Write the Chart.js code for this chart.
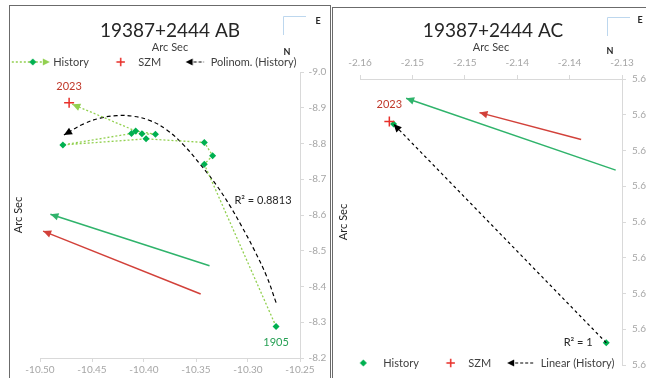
<!DOCTYPE html>
<html>
<head>
<meta charset="utf-8">
<script src="https://cdn.jsdelivr.net/npm/chart.js@4.4.1/dist/chart.umd.min.js"></script>
<style>
  html, body { margin: 0; padding: 0; background: #fff; width: 646px; height: 378px; overflow: hidden; }
  .panel { position: absolute; border: 1px solid #6b6b6b; background: #fff; overflow: hidden; }
  #pAB { left: 9px; top: 5px; width: 320px; height: 380px; }
  #pAC { left: 332px; top: 7px; width: 320px; height: 380px; }
  canvas { display: block; }
</style>
</head>
<body>
<div class="panel" id="pAB"><canvas id="ab" width="320" height="380"></canvas></div>
<div class="panel" id="pAC"><canvas id="ac" width="320" height="380"></canvas></div>
<script>
// ---- 19387+2444 AB ----
const abHistX = [-10.273, -10.342, -10.334, -10.342, -10.398, -10.478, -10.412, -10.402, -10.389, -10.408, -10.469]
const abHistY = [-8.288, -8.742, -8.766, -8.803, -8.813, -8.796, -8.828, -8.827, -8.826, -8.835, -8.910]
const abSzmX = [-10.472]
const abSzmY = [-8.914]
const abTrendX = [-10.273, -10.282, -10.295, -10.306, -10.317, -10.330, -10.346, -10.362, -10.378, -10.394, -10.410, -10.426, -10.442, -10.458, -10.477]
const abTrendY = [-8.355, -8.428, -8.508, -8.568, -8.624, -8.682, -8.742, -8.796, -8.838, -8.864, -8.876, -8.878, -8.871, -8.855, -8.824]
const abGreenX = [-10.337, -10.490]
const abGreenY = [-8.458, -8.602]
const abRedX = [-10.3455, -10.497]
const abRedY = [-8.379, -8.555]
const abXTicks = [-10.50, -10.45, -10.40, -10.35, -10.30, -10.25]
const abXLabels = ['-10.50', '-10.45', '-10.40', '-10.35', '-10.30', '-10.25']
const abYTicks = [-9.0, -8.9, -8.8, -8.7, -8.6, -8.5, -8.4, -8.3, -8.2]
const abYLabels = ['-9.0', '-8.9', '-8.8', '-8.7', '-8.6', '-8.5', '-8.4', '-8.3', '-8.2']

// ---- 19387+2444 AC ----
const acHistX = [-2.1365, -2.1568]
const acHistY = [5.6838, 5.6226]
const acSzmX = [-2.1572]
const acSzmY = [5.6219]
const acTrendX = [-2.1365, -2.1568]
const acTrendY = [5.6838, 5.6226]
const acGreenX = [-2.1356, -2.1556]
const acGreenY = [5.6355, 5.6154]
const acRedX = [-2.1389, -2.1486]
const acRedY = [5.6269, 5.6194]
const acXTicks = [-2.160, -2.155, -2.150, -2.145, -2.140, -2.135]
const acXLabels = ['-2.16', '-2.15', '-2.15', '-2.14', '-2.14', '-2.13']
const acYTicks = [5.61, 5.62, 5.63, 5.64, 5.65, 5.66, 5.67, 5.68, 5.69]
const acYLabels = ['5.61', '5.62', '5.63', '5.64', '5.65', '5.66', '5.67', '5.68', '5.69']

Chart.defaults.font.family = 'Lato'
Chart.defaults.color = '#404040'

const axisGrey = '#d9d9d9'
const tickGrey = '#a6a6a6'
const histLine = '#92d050'
const histDot = '#00b050'
const szmRed = '#e8302a'
const vecGreen = '#2fb36b'
const vecRed = '#d2413a'

function pts (xs, ys) {
  return xs.map((x, i) => ({ x, y: ys[i] }))
}

function tri (g, tx, ty, ang, len, half, color) {
  g.save()
  g.translate(tx, ty)
  g.rotate(ang)
  g.fillStyle = color
  g.beginPath()
  g.moveTo(0, 0)
  g.lineTo(-len, -half)
  g.lineTo(-len, half)
  g.closePath()
  g.fill()
  g.restore()
}

function diamond (g, cx, cy, r, color) {
  g.fillStyle = color
  g.beginPath()
  g.moveTo(cx, cy - r)
  g.lineTo(cx + r, cy)
  g.lineTo(cx, cy + r)
  g.lineTo(cx - r, cy)
  g.closePath()
  g.fill()
}

function makeIcon (draw) {
  const c = document.createElement('canvas')
  c.width = 48
  c.height = 14
  draw(c.getContext('2d'))
  return c
}

const iconHistAB = makeIcon(g => {
  g.strokeStyle = histLine
  g.lineWidth = 1.5
  g.setLineDash([2, 2])
  g.beginPath(); g.moveTo(2, 7); g.lineTo(34, 7); g.stroke()
  diamond(g, 23, 7, 3.5, histDot)
  tri(g, 40, 7, 0, 7, 3.5, histLine)
})
const iconHistAC = makeIcon(g => diamond(g, 23.5, 7, 3.5, histDot))
const iconSzm = makeIcon(g => {
  g.strokeStyle = szmRed
  g.lineWidth = 1.5
  g.beginPath()
  g.moveTo(21.5, 7); g.lineTo(30, 7)
  g.moveTo(25.8, 2.8); g.lineTo(25.8, 11.2)
  g.stroke()
})
function trendIcon (tip) {
  return makeIcon(g => {
    tri(g, tip, 7, Math.PI, 7, 3.5, '#000')
    g.strokeStyle = '#000'
    g.lineWidth = 1.2
    g.setLineDash([3, 2])
    g.beginPath(); g.moveTo(tip + 8, 7); g.lineTo(37, 7); g.stroke()
  })
}

function legendFrom (icons) {
  return chart => icons.map(([label, icon]) => ({
    text: label,
    pointStyle: icon,
    datasetIndex: chart.data.datasets.findIndex(d => d.label === label),
    hidden: false,
    lineWidth: 0,
    fillStyle: 'rgba(0,0,0,0)',
    strokeStyle: 'rgba(0,0,0,0)',
    fontColor: '#404040'
  }))
}

// arrow heads at the last point of every dataset that asks for one
const arrowHeads = {
  id: 'arrowHeads',
  afterDatasetsDraw (chart) {
    const ctx = chart.ctx
    chart.data.datasets.forEach((ds, i) => {
      if (!ds.arrowColor) return
      const els = chart.getDatasetMeta(i).data
      const tip = els[els.length - 1]
      let from = els[els.length - 2]
      if (tip.cp1x !== undefined && (Math.abs(tip.cp1x - tip.x) > 0.5 || Math.abs(tip.cp1y - tip.y) > 0.5)) {
        from = { x: tip.cp1x, y: tip.cp1y }
      }
      tri(ctx, tip.x, tip.y, Math.atan2(tip.y - from.y, tip.x - from.x), 8, 3.8, ds.arrowColor)
    })
  }
}

function makeNotes (notes) {
  return {
    id: 'pointNotes',
    afterDatasetsDraw (chart) {
      const { ctx, scales } = chart
      notes.forEach(n => {
        ctx.save()
        ctx.font = '11px Lato'
        ctx.fillStyle = n.color
        ctx.textAlign = n.align || 'center'
        ctx.textBaseline = 'middle'
        ctx.fillText(n.text, scales.x.getPixelForValue(n.x), scales.y.getPixelForValue(n.y) + (n.dy || 0))
        ctx.restore()
      })
    }
  }
}

function makeCompass (c) {
  return {
    id: 'compass',
    afterDraw (chart) {
      const ctx = chart.ctx
      ctx.save()
      ctx.strokeStyle = '#bdd7ee'
      ctx.lineWidth = 1
      ctx.beginPath()
      ctx.moveTo(c.x + 23, c.y + 0.5)
      ctx.lineTo(c.x + 0.5, c.y + 0.5)
      ctx.lineTo(c.x + 0.5, c.y + 19)
      ctx.stroke()
      ctx.fillStyle = '#262626'
      ctx.font = 'bold 9px Lato'
      ctx.textAlign = 'center'
      ctx.textBaseline = 'middle'
      ctx.fillText('E', c.ex, c.ey)
      ctx.fillText('N', c.nx, c.ny)
      ctx.restore()
    }
  }
}

// the legend keeps a thin slot in the layout; move its drawing box to the wanted row
function makeLegendPlace (cy, dx) {
  return {
    id: 'legendPlace',
    afterLayout (chart) {
      const lg = chart.legend
      lg.top = cy - lg.options.labels.padding - 5.5
      lg.bottom = cy + 12
      lg.height = lg.bottom - lg.top
      lg.left += dx
      lg.right += dx
    }
  }
}

function valueAxis (pos, ticks, labels, size, pad, extra) {
  return Object.assign({
    type: 'linear',
    position: pos,
    min: ticks[0],
    max: ticks[ticks.length - 1],
    afterBuildTicks: s => { s.ticks = ticks.map(v => ({ value: v })) },
    afterFit: s => { if (pos === 'left' || pos === 'right') s.width = size; else s.height = size },
    grid: { drawOnChartArea: false, tickLength: 4, color: axisGrey },
    border: { color: axisGrey },
    ticks: { padding: pad, color: tickGrey, font: { size: 10 }, autoSkip: false, maxRotation: 0, callback: (v, i) => labels[i] }
  }, extra || {})
}

function titleAxis (width, pad) {
  return {
    type: 'linear',
    position: 'left',
    afterFit: s => { s.width = width },
    ticks: { display: false },
    grid: { display: false },
    border: { display: false },
    title: { display: true, text: 'Arc Sec', color: '#262626', font: { size: 11 }, padding: { top: pad, bottom: 0 } }
  }
}

function vector (label, xs, ys, color) {
  return { label, data: pts(xs, ys), showLine: true, borderColor: color, borderWidth: 1.5, pointRadius: 0, arrowColor: color }
}

new Chart(document.getElementById('ab'), {
  type: 'scatter',
  data: {
    datasets: [
      { label: 'SZM', data: pts(abSzmX, abSzmY), pointStyle: 'cross', pointRadius: 5, borderColor: szmRed, borderWidth: 1.5 },
      {
        label: 'History',
        data: pts(abHistX, abHistY),
        showLine: true,
        borderColor: histLine,
        borderWidth: 1.3,
        borderDash: [2, 2],
        pointStyle: 'rectRot',
        pointRadius: c => (c.dataIndex === abHistX.length - 1 ? 0 : 3.5),
        pointBackgroundColor: histDot,
        pointBorderColor: histDot,
        pointBorderWidth: 0,
        arrowColor: histLine
      },
      { label: 'Polinom. (History)', data: pts(abTrendX, abTrendY), showLine: true, tension: 0.4, borderColor: '#000', borderWidth: 1.2, borderDash: [4, 3], pointRadius: 0, arrowColor: '#000' },
      vector('vecGreen', abGreenX, abGreenY, vecGreen),
      vector('vecRed', abRedX, abRedY, vecRed)
    ]
  },
  options: {
    responsive: false,
    animation: false,
    events: [],
    layout: { padding: 0 },
    scales: {
      x: valueAxis('bottom', abXTicks, abXLabels, 28, 2),
      y: valueAxis('right', abYTicks, abYLabels, 30, 4.6, { reverse: true }),
      yTitle: titleAxis(30, 1.4)
    },
    plugins: {
      tooltip: { enabled: false },
      title: { display: true, text: '19387+2444 AB', color: '#262626', font: { size: 19, weight: 'normal', lineHeight: 1 }, padding: { top: 15.5, bottom: 0 } },
      subtitle: { display: true, text: 'Arc Sec', color: '#404040', font: { size: 11, lineHeight: 1 }, padding: { top: 1.5, bottom: 0 } },
      legend: {
        position: 'top',
        align: 'start',
        maxHeight: 19,
        labels: {
          usePointStyle: true,
          pointStyleWidth: 28,
          padding: 16,
          color: '#404040',
          font: { size: 11 },
          generateLabels: legendFrom([['History', iconHistAB], ['SZM', iconSzm], ['Polinom. (History)', trendIcon(18.5)]])
        }
      }
    }
  },
  plugins: [
    arrowHeads,
    makeNotes([
      { text: '2023', x: abSzmX[0], y: abSzmY[0], dy: -16, color: '#c0392b' },
      { text: '1905', x: abHistX[0], y: abHistY[0], dy: 16, color: '#27a055' },
      { text: 'R² = 0.8813', x: -10.2856, y: -8.642, color: '#262626' }
    ]),
    makeCompass({ x: 273, y: 10, ex: 308, ey: 15, nx: 277, ny: 46 }),
    makeLegendPlace(56, -6.2)
  ]
})

new Chart(document.getElementById('ac'), {
  type: 'scatter',
  data: {
    datasets: [
      { label: 'SZM', data: pts(acSzmX, acSzmY), pointStyle: 'cross', pointRadius: 5, borderColor: szmRed, borderWidth: 1.5 },
      { label: 'Linear (History)', data: pts(acTrendX, acTrendY), showLine: true, borderColor: '#000', borderWidth: 1.2, borderDash: [3, 3], pointRadius: 0, arrowColor: '#000' },
      { label: 'History', data: pts(acHistX, acHistY), pointStyle: 'rectRot', pointRadius: 3.5, pointBackgroundColor: histDot, pointBorderColor: histDot, pointBorderWidth: 0 },
      vector('vecGreen', acGreenX, acGreenY, vecGreen),
      vector('vecRed', acRedX, acRedY, vecRed)
    ]
  },
  options: {
    responsive: false,
    animation: false,
    events: [],
    layout: { padding: 0 },
    scales: {
      x: valueAxis('top', acXTicks, acXLabels, 38.5, 6, {
        title: { display: true, text: 'Arc Sec', color: '#404040', font: { size: 11 }, padding: { top: 0, bottom: 0 } }
      }),
      y: valueAxis('right', acYTicks, acYLabels, 31, 6, { reverse: true }),
      yTitle: titleAxis(27, 3.4)
    },
    plugins: {
      tooltip: { enabled: false },
      title: { display: true, text: '19387+2444 AC', color: '#262626', font: { size: 19, weight: 'normal', lineHeight: 1 }, padding: { top: 13.5, bottom: 0 } },
      legend: {
        position: 'bottom',
        align: 'start',
        maxHeight: 23,
        labels: {
          usePointStyle: true,
          pointStyleWidth: 28,
          padding: 16,
          color: '#404040',
          font: { size: 11 },
          generateLabels: legendFrom([['History', iconHistAC], ['SZM', iconSzm], ['Linear (History)', trendIcon(10)]])
        }
      }
    }
  },
  plugins: [
    arrowHeads,
    makeNotes([
      { text: '2023', x: acSzmX[0], y: acSzmY[0], dy: -17, color: '#c0392b' },
      { text: 'R² = 1', x: -2.1378, y: 5.6838, color: '#262626', align: 'right' }
    ]),
    makeCompass({ x: 274, y: 9, ex: 307, ey: 12, nx: 277, ny: 43 }),
    makeLegendPlace(355, 0.8)
  ]
})
</script>
</body>
</html>
